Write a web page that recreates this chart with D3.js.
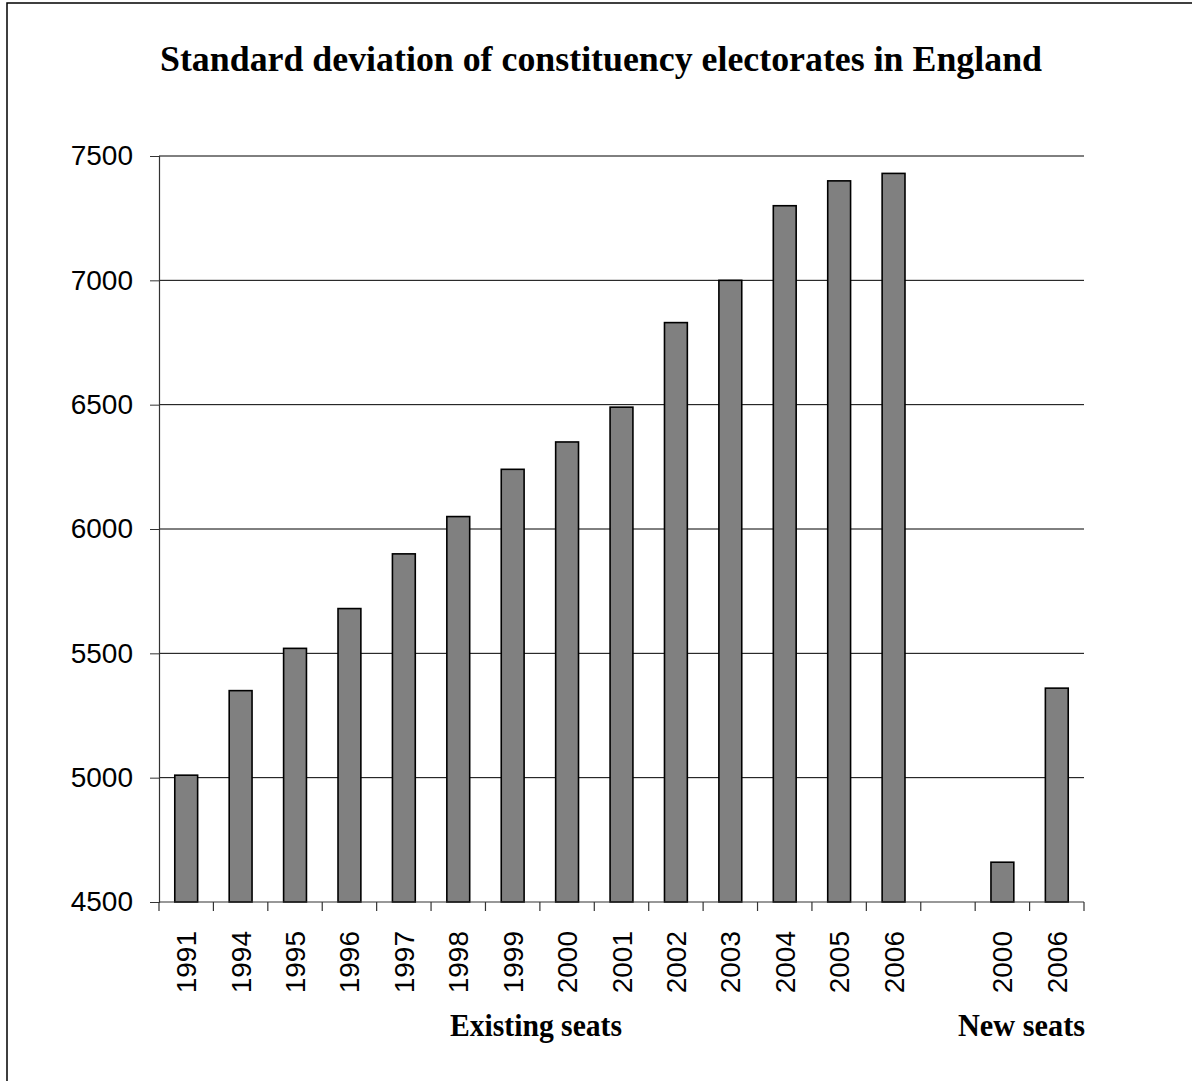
<!DOCTYPE html>
<html>
<head>
<meta charset="utf-8">
<script src="https://cdn.jsdelivr.net/npm/d3@7"></script>
<style>
  html, body { margin: 0; padding: 0; background: #fff; }
  svg { display: block; }
</style>
</head>
<body>
<svg id="chart" width="1192" height="1081"></svg>
<script>
// ---- data ----
const existingYears = ["1991","1994","1995","1996","1997","1998","1999","2000","2001","2002","2003","2004","2005","2006"];
const existingValues = [5010, 5350, 5520, 5680, 5900, 6050, 6240, 6350, 6490, 6830, 7000, 7300, 7400, 7430];
const newYears = ["2000","2006"];
const newValues = [4660, 5360];
const yTicks = [4500, 5000, 5500, 6000, 6500, 7000, 7500];
const titleText = "Standard deviation of constituency electorates in England";
const groupLabels = ["Existing seats", "New seats"];

(function () {
// build slots: existing, one empty gap, new
const slots = [];
existingYears.forEach((y, i) => slots.push({key: "E" + y, label: y, value: existingValues[i]}));
slots.push({key: "gap", label: "", value: null});
newYears.forEach((y, i) => slots.push({key: "N" + y, label: y, value: newValues[i]}));

const svg = d3.select("#chart");
const pL = 159, pR = 1084, pT = 156, pB = 902;

// border
svg.append("rect").attr("x", 7).attr("y", 3).attr("width", 1200).attr("height", 1100)
  .attr("fill", "none").attr("stroke", "#000").attr("stroke-width", 1.5);

const x = d3.scaleBand().domain(slots.map(d => d.key)).range([pL, pR])
  .paddingInner(0.58).paddingOuter(0.29);
const y = d3.scaleLinear().domain([4500, 7500]).range([pB, pT]);

// gridlines
svg.append("g").selectAll("line").data(yTicks.filter(t => t > 4500)).join("line")
  .attr("x1", pL).attr("x2", pR)
  .attr("y1", d => y(d)).attr("y2", d => y(d))
  .attr("stroke", "#000").attr("stroke-width", 1);

// y axis
const yAxis = svg.append("g").attr("transform", `translate(${pL},0)`)
  .call(d3.axisLeft(y).tickValues(yTicks).tickSize(9).tickPadding(17).tickFormat(d3.format("d")));
yAxis.select(".domain").attr("stroke", "#333").attr("stroke-width", 1.2);
yAxis.selectAll(".tick line").attr("stroke", "#333");
yAxis.selectAll("text").attr("font-family", "Arial, 'Liberation Sans', sans-serif")
  .attr("font-size", 28).attr("fill", "#000");

// bars
svg.append("g").selectAll("rect").data(slots.filter(d => d.value !== null)).join("rect")
  .attr("x", d => x(d.key)).attr("width", x.bandwidth())
  .attr("y", d => y(d.value)).attr("height", d => y(4500) - y(d.value))
  .attr("fill", "#808080").attr("stroke", "#000").attr("stroke-width", 1.6);

// x axis line
svg.append("line").attr("x1", pL).attr("x2", pR).attr("y1", pB).attr("y2", pB)
  .attr("stroke", "#333").attr("stroke-width", 1.2);

// x tick marks at slot boundaries
const bounds = d3.range(slots.length + 1).map(i => pL + i * (pR - pL) / slots.length);
svg.append("g").selectAll("line").data(bounds).join("line")
  .attr("x1", d => d).attr("x2", d => d).attr("y1", pB).attr("y2", pB + 9)
  .attr("stroke", "#333").attr("stroke-width", 1.2);

// x labels (rotated)
svg.append("g").selectAll("text").data(slots.filter(d => d.label)).join("text")
  .attr("transform", d => `translate(${x(d.key) + x.bandwidth() / 2 + 10},${931}) rotate(-90)`)
  .attr("text-anchor", "end")
  .attr("font-family", "Arial, 'Liberation Sans', sans-serif")
  .attr("font-size", 28).attr("fill", "#000")
  .text(d => d.label);

// title
svg.append("text").attr("x", 601).attr("y", 71).attr("text-anchor", "middle")
  .attr("font-family", "'Times New Roman', 'Liberation Serif', serif")
  .attr("font-weight", "bold").attr("font-size", 36)
  .attr("textLength", 882).attr("lengthAdjust", "spacingAndGlyphs")
  .text(titleText);

// group labels
svg.append("text").attr("x", 536).attr("y", 1036).attr("text-anchor", "middle")
  .attr("font-family", "'Times New Roman', 'Liberation Serif', serif")
  .attr("font-weight", "bold").attr("font-size", 32)
  .attr("textLength", 172).attr("lengthAdjust", "spacingAndGlyphs")
  .text(groupLabels[0]);
svg.append("text").attr("x", 1085).attr("y", 1036).attr("text-anchor", "end")
  .attr("font-family", "'Times New Roman', 'Liberation Serif', serif")
  .attr("font-weight", "bold").attr("font-size", 32)
  .attr("textLength", 127).attr("lengthAdjust", "spacingAndGlyphs")
  .text(groupLabels[1]);
})();
</script>
</body>
</html>
